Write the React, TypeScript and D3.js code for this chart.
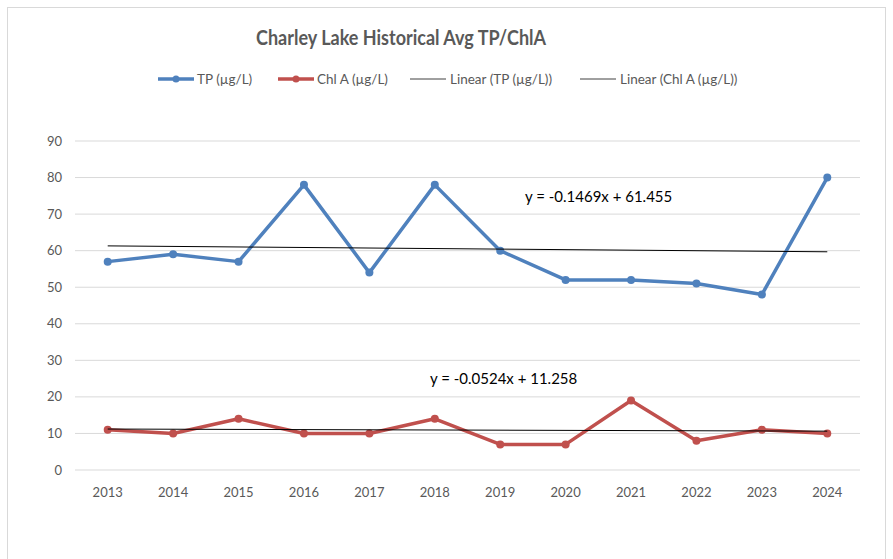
import React from "react";
import * as d3 from "d3";

const years = ["2013", "2014", "2015", "2016", "2017", "2018", "2019", "2020", "2021", "2022", "2023", "2024"];
const tpValues = [57, 59, 57, 78, 54, 78, 60, 52, 52, 51, 48, 80];
const chlValues = [11, 10, 14, 10, 10, 14, 7, 7, 19, 8, 11, 10];
const yTicks = [0, 10, 20, 30, 40, 50, 60, 70, 80, 90];

// Excel trendline coefficients (x = 1..n)
const tpTrend = { slope: -0.1469, intercept: 61.455, label: "y = -0.1469x + 61.455" };
const chlTrend = { slope: -0.0524, intercept: 11.258, label: "y = -0.0524x + 11.258" };

const legendItems = [
  { label: "TP (µg/L)", color: "#4f81bd", marker: true },
  { label: "Chl A (µg/L)", color: "#c0504d", marker: true },
  { label: "Linear (TP (µg/L))", color: "#000000", marker: false },
  { label: "Linear (Chl A (µg/L))", color: "#000000", marker: false },
];

const FONT = "Lato, 'Open Sans', sans-serif";
const GRAY = "#595959";

const App = () => {
  const width = 893;
  const height = 559;
  const margin = { top: 141, right: 33, bottom: 89, left: 75 };
  const innerW = width - margin.left - margin.right;
  const innerH = height - margin.top - margin.bottom;

  const x = d3.scaleBand().domain(years).range([0, innerW]);
  const y = d3.scaleLinear().domain([0, 90]).range([innerH, 0]);
  const cx = (i: number) => (x(years[i]) as number) + x.bandwidth() / 2;

  const line = d3
    .line<number>()
    .x((d, i) => cx(i))
    .y((d) => y(d));

  // trendline runs from first to last category
  const trendLine = (t: { slope: number; intercept: number }) =>
    d3
      .line<number>()
      .x((i) => cx(i))
      .y((i) => y(t.slope * (i + 1) + t.intercept))([0, years.length - 1]) || "";

  const series = [
    { values: tpValues, color: "#4f81bd" },
    { values: chlValues, color: "#c0504d" },
  ];

  const legendX = [158, 278, 410, 580];

  return (
    <svg width={width} height={height} style={{ display: "block", position: "absolute", left: 0, top: 0 }}>
      <rect x={0} y={0} width={width} height={height} fill="#ffffff" />
      <rect x={7.5} y={7.5} width={878} height={600} fill="#ffffff" stroke="#d9d9d9" />
      <text
        x={401}
        y={45}
        textAnchor="middle"
        fontFamily={FONT}
        fontWeight="bold"
        fontSize={20}
        textLength={290}
        lengthAdjust="spacingAndGlyphs"
        fill={GRAY}
      >
        Charley Lake Historical Avg TP/ChlA
      </text>

      {legendItems.map((item, i) => (
        <g key={item.label} transform={`translate(${legendX[i]},79)`}>
          <line
            x1={0}
            x2={36}
            y1={0}
            y2={0}
            stroke={item.marker ? item.color : "#404040"}
            strokeWidth={item.marker ? 3.5 : 1}
          />
          {item.marker && <circle cx={18} cy={0} r={3.5} fill={item.color} />}
          <text
            x={item.marker ? 39 : 40}
            y={0}
            dy="0.35em"
            fontFamily={FONT}
            fontSize={13.5}
            fill={GRAY}
          >
            {item.label}
          </text>
        </g>
      ))}

      <g transform={`translate(${margin.left},${margin.top})`}>
        {yTicks.map((t) => (
          <g key={t}>
            <line x1={0} x2={innerW} y1={y(t)} y2={y(t)} stroke="#d9d9d9" strokeWidth={1} />
            <text
              x={-13}
              y={y(t)}
              dy="0.35em"
              textAnchor="end"
              fontFamily={FONT}
              fontSize={13}
              fill={GRAY}
            >
              {t}
            </text>
          </g>
        ))}
        {years.map((yr, i) => (
          <text
            key={yr}
            x={cx(i)}
            y={innerH + 22}
            dy="0.35em"
            textAnchor="middle"
            fontFamily={FONT}
            fontSize={13}
            fill={GRAY}
          >
            {yr}
          </text>
        ))}

        {series.map((s) => (
          <g key={s.color}>
            <path d={line(s.values) || ""} fill="none" stroke={s.color} strokeWidth={3.5} strokeLinejoin="round" />
            {s.values.map((v, i) => (
              <circle key={i} cx={cx(i)} cy={y(v)} r={4} fill={s.color} />
            ))}
          </g>
        ))}

        <path d={trendLine(tpTrend)} fill="none" stroke="#000000" strokeWidth={1} />
        <path d={trendLine(chlTrend)} fill="none" stroke="#000000" strokeWidth={1} />

        <text x={450} y={56} dy="0.35em" fontFamily={FONT} fontSize={15} fill="#000000">
          {tpTrend.label}
        </text>
        <text x={355} y={238} dy="0.35em" fontFamily={FONT} fontSize={15} fill="#000000">
          {chlTrend.label}
        </text>
      </g>
    </svg>
  );
};

export default App;
